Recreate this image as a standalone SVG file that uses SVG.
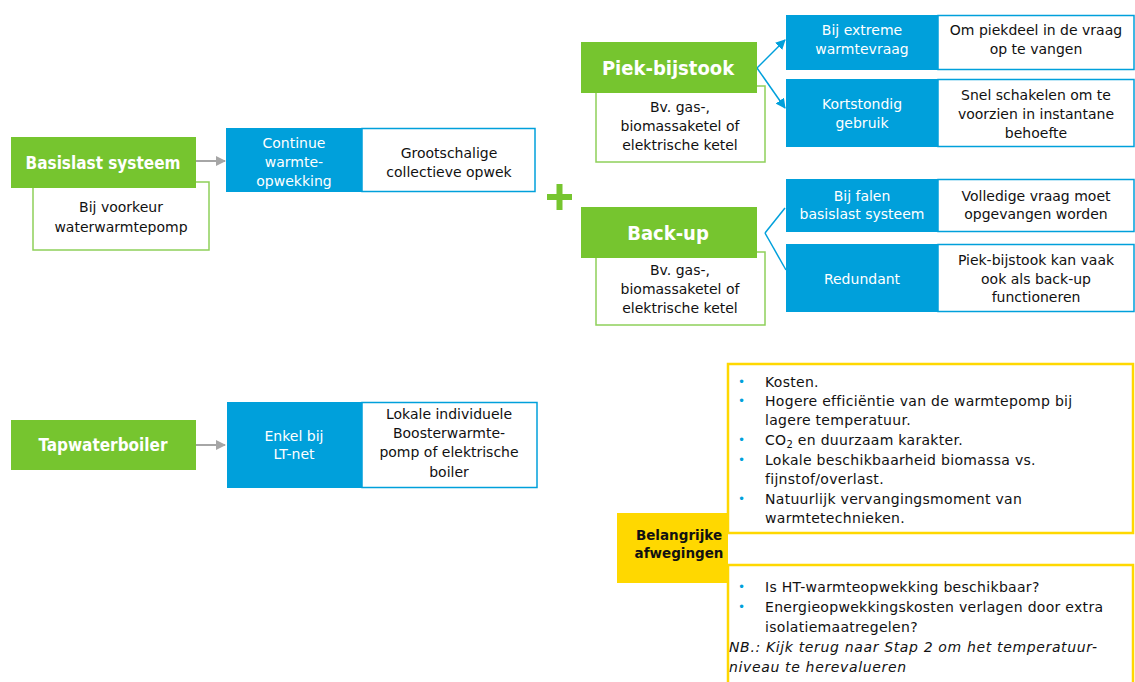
<svg xmlns="http://www.w3.org/2000/svg" width="1135" height="682" viewBox="0 0 1135 682">
  <style>
    text { font-family: "DejaVu Sans", "Liberation Sans", sans-serif; }
    .green { fill: #76C52F; }
    .sub { fill: #ffffff; stroke: #8ED05A; stroke-width: 1.5; }
    .blue { fill: #00A0DB; }
    .wbox { fill: #ffffff; stroke: #00A0DB; stroke-width: 1.5; }
    .ybox { fill: #ffffff; stroke: #FFD800; stroke-width: 2.5; }
    .ylabel { fill: #FFD800; }
    .title { fill: #ffffff; font-family: "DejaVu Sans Condensed", "DejaVu Sans", sans-serif; font-stretch: condensed; font-weight: bold; text-anchor: middle; font-size: 17px; }
    .bigtitle { fill: #ffffff; font-family: "DejaVu Sans Condensed", "DejaVu Sans", sans-serif; font-stretch: condensed; font-weight: bold; text-anchor: middle; font-size: 20px; }
    .wt { fill: #ffffff; text-anchor: middle; font-size: 14px; }
    .bt { fill: #111111; text-anchor: middle; font-size: 14px; }
    .lt { fill: #111111; font-size: 14px; letter-spacing: 0.3px; }
    .nb { fill: #111111; font-size: 14px; font-style: italic; letter-spacing: 0.65px; }
    .bullet { fill: #00A0DB; font-size: 12px; }
    .label { fill: #111111; font-size: 13.5px; font-weight: bold; text-anchor: middle; }
    .grey { stroke: #A6A6A6; stroke-width: 2; fill: none; }
    .bl { stroke: #00A0DB; stroke-width: 1.5; fill: none; }
  </style>
  <defs>
    <marker id="greyArrow" markerWidth="10" markerHeight="10" refX="9" refY="5" orient="auto" markerUnits="userSpaceOnUse">
      <path d="M0,0 L10,5 L0,10 Z" fill="#A6A6A6"/>
    </marker>
    <marker id="blueArrow" markerWidth="10" markerHeight="10" refX="9" refY="5" orient="auto" markerUnits="userSpaceOnUse">
      <path d="M0,0 L10,5 L0,10 Z" fill="#00A0DB"/>
    </marker>
  </defs>

  <!-- connectors -->
  <g id="connectors">
    <line class="grey" x1="196" y1="161" x2="225" y2="161" marker-end="url(#greyArrow)"/>
    <line class="grey" x1="196" y1="445" x2="225" y2="445" marker-end="url(#greyArrow)"/>
    <line class="bl" x1="757" y1="68" x2="785" y2="40" marker-end="url(#blueArrow)"/>
    <line class="bl" x1="757" y1="68" x2="785" y2="108" marker-end="url(#blueArrow)"/>
    <line class="bl" x1="765" y1="233" x2="785" y2="208"/>
    <line class="bl" x1="765" y1="233" x2="786" y2="270"/>
  </g>

  <!-- base load -->
  <g id="basislast">
    <rect class="sub" x="33" y="182" width="176" height="68"/>
    <rect class="green" x="11" y="137" width="185" height="51"/>
    <text class="title" x="103" y="169">Basislast systeem</text>
    <text class="bt" x="121" y="212">Bij voorkeur</text>
    <text class="bt" x="121" y="232">waterwarmtepomp</text>
  </g>
  <g id="continue">
    <rect class="blue" x="226" y="128" width="136" height="64"/>
    <text class="wt" x="294" y="148">Continue</text>
    <text class="wt" x="294" y="167">warmte-</text>
    <text class="wt" x="294" y="186">opwekking</text>
  </g>
  <g id="grootschalig">
    <rect class="wbox" x="362" y="128.5" width="173" height="63"/>
    <text class="bt" x="449" y="158">Grootschalige</text>
    <text class="bt" x="449" y="177">collectieve opwek</text>
  </g>

  <!-- plus sign -->
  <g id="plus">
    <rect class="green" x="547" y="194" width="25" height="6"/>
    <rect class="green" x="556.5" y="184" width="6" height="26"/>
  </g>

  <!-- peak -->
  <g id="piek">
    <rect class="sub" x="596" y="86" width="169" height="76"/>
    <rect class="green" x="581" y="42" width="176" height="51"/>
    <text class="bigtitle" x="668" y="75">Piek-bijstook</text>
    <text class="bt" x="680" y="112">Bv. gas-,</text>
    <text class="bt" x="680" y="131">biomassaketel of</text>
    <text class="bt" x="680" y="150">elektrische ketel</text>
  </g>
  <g id="extreme">
    <rect class="blue" x="786" y="15" width="152" height="55"/>
    <text class="wt" x="862" y="35">Bij extreme</text>
    <text class="wt" x="862" y="54">warmtevraag</text>
    <rect class="wbox" x="938" y="15.5" width="196" height="54"/>
    <text class="bt" x="1036" y="35">Om piekdeel in de vraag</text>
    <text class="bt" x="1036" y="54">op te vangen</text>
  </g>
  <g id="kortstondig">
    <rect class="blue" x="786" y="79" width="152" height="68"/>
    <text class="wt" x="862" y="109">Kortstondig</text>
    <text class="wt" x="862" y="128">gebruik</text>
    <rect class="wbox" x="938" y="79.5" width="196" height="67"/>
    <text class="bt" x="1036" y="100">Snel schakelen om te</text>
    <text class="bt" x="1036" y="119">voorzien in instantane</text>
    <text class="bt" x="1036" y="138">behoefte</text>
  </g>

  <!-- back-up -->
  <g id="backup">
    <rect class="sub" x="596" y="252" width="169" height="73"/>
    <rect class="green" x="581" y="207" width="176" height="51"/>
    <text class="bigtitle" x="668" y="240">Back-up</text>
    <text class="bt" x="680" y="275">Bv. gas-,</text>
    <text class="bt" x="680" y="294">biomassaketel of</text>
    <text class="bt" x="680" y="313">elektrische ketel</text>
  </g>
  <g id="falen">
    <rect class="blue" x="786" y="179" width="152" height="53"/>
    <text class="wt" x="862" y="201">Bij falen</text>
    <text class="wt" x="862" y="219">basislast systeem</text>
    <rect class="wbox" x="938" y="179.5" width="196" height="52"/>
    <text class="bt" x="1036" y="201">Volledige vraag moet</text>
    <text class="bt" x="1036" y="219">opgevangen worden</text>
  </g>
  <g id="redundant">
    <rect class="blue" x="786" y="244" width="152" height="68"/>
    <text class="wt" x="862" y="284">Redundant</text>
    <rect class="wbox" x="938" y="244.5" width="196" height="67"/>
    <text class="bt" x="1036" y="265">Piek-bijstook kan vaak</text>
    <text class="bt" x="1036" y="284">ook als back-up</text>
    <text class="bt" x="1036" y="302">functioneren</text>
  </g>

  <!-- tap water -->
  <g id="tapwater">
    <rect class="green" x="11" y="420" width="185" height="50"/>
    <text class="title" x="103" y="451">Tapwaterboiler</text>
  </g>
  <g id="ltnet">
    <rect class="blue" x="227" y="402" width="135" height="86"/>
    <text class="wt" x="294" y="441">Enkel bij</text>
    <text class="wt" x="294" y="459">LT-net</text>
  </g>
  <g id="booster">
    <rect class="wbox" x="362" y="402.5" width="175" height="85"/>
    <text class="bt" x="449" y="419">Lokale individuele</text>
    <text class="bt" x="449" y="438">Boosterwarmte-</text>
    <text class="bt" x="449" y="457">pomp of elektrische</text>
    <text class="bt" x="449" y="477">boiler</text>
  </g>

  <!-- considerations -->
  <g id="afwegingen-top">
    <rect class="ybox" x="728" y="364" width="405" height="169"/>
    <text class="bullet" x="738" y="386">•</text>
    <text class="lt" x="765" y="387">Kosten.</text>
    <text class="bullet" x="738" y="405">•</text>
    <text class="lt" x="765" y="406">Hogere efficiëntie van de warmtepomp bij</text>
    <text class="lt" x="765" y="425">lagere temperatuur.</text>
    <text class="bullet" x="738" y="444">•</text>
    <text class="lt" x="765" y="445">CO<tspan font-size="10" dy="3">2</tspan><tspan dy="-3"> en duurzaam karakter.</tspan></text>
    <text class="bullet" x="738" y="464">•</text>
    <text class="lt" x="765" y="465">Lokale beschikbaarheid biomassa vs.</text>
    <text class="lt" x="765" y="484">fijnstof/overlast.</text>
    <text class="bullet" x="738" y="503">•</text>
    <text class="lt" x="765" y="504">Natuurlijk vervangingsmoment van</text>
    <text class="lt" x="765" y="523">warmtetechnieken.</text>
  </g>
  <g id="afwegingen-bottom">
    <rect class="ybox" x="728" y="565" width="405" height="130"/>
    <text class="bullet" x="738" y="591">•</text>
    <text class="lt" x="765" y="592">Is HT-warmteopwekking beschikbaar?</text>
    <text class="bullet" x="738" y="611">•</text>
    <text class="lt" x="765" y="612">Energieopwekkingskosten verlagen door extra</text>
    <text class="lt" x="765" y="632">isolatiemaatregelen?</text>
    <text class="nb" x="729" y="652">NB.: Kijk terug naar Stap 2 om het temperatuur-</text>
    <text class="nb" x="729" y="672">niveau te herevalueren</text>
  </g>
  <g id="afwegingen-label">
    <rect class="ylabel" x="617" y="513" width="111" height="70"/>
    <text class="label" x="679" y="540">Belangrijke</text>
    <text class="label" x="679" y="558">afwegingen</text>
  </g>
</svg>
